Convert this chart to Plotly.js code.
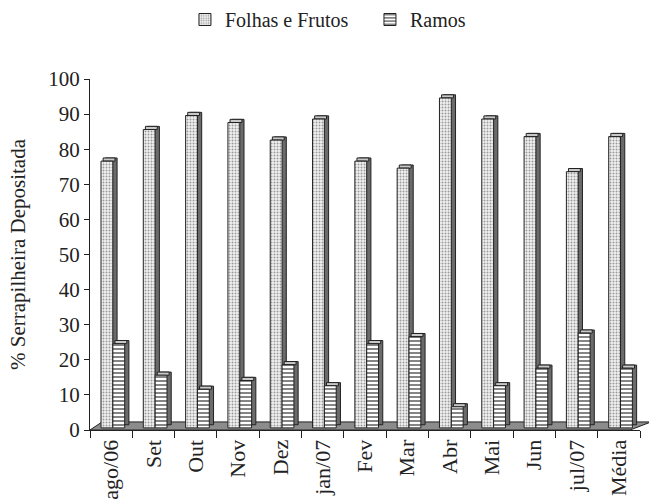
<!DOCTYPE html>
<html><head><meta charset="utf-8">
<script src="https://cdn.plot.ly/plotly-3.0.1.min.js"></script>
<style>html,body{margin:0;padding:0;background:#fff}</style>
</head><body>
<div id="chart" style="width:649px;height:499px"></div>
<script>
const categories = ["ago/06","Set","Out","Nov","Dez","jan/07","Fev","Mar","Abr","Mai","Jun","jul/07","Média"];
const folhasFrutos = [76, 85, 89, 87, 82, 88, 76, 74, 94, 88, 83, 73, 83];
const ramos = [24, 15, 11, 13.5, 18, 12, 24, 26, 6, 12, 17, 27, 17];
const seriesNames = ["Folhas e Frutos", "Ramos"];

const W = 0.28, DX = 0.1, DY = 0.9;
function depthTraces(vals, off) {
  return [
    {type:'bar', x:categories, y:vals, base:vals.map(()=>DY+0.6), offset:off+DX, width:W,
     marker:{color:'#6b6b6b', line:{color:'#222', width:1}}, showlegend:false, hoverinfo:'skip'},
    {type:'bar', x:categories, y:vals.map(()=>DY), base:vals.map(v=>v+0.6), offset:off+DX/2, width:W,
     marker:{color:'#c8c8c8', line:{color:'#222', width:1}}, showlegend:false, hoverinfo:'skip'}
  ];
}
const offF = -0.24, offR = 0.04;
const traces = [
  ...depthTraces(folhasFrutos, offF),
  {type:'bar', name:seriesNames[0], x:categories, y:folhasFrutos, base:0.6, offset:offF, width:W,
   marker:{color:'#fff', line:{color:'#222', width:1},
     pattern:{shape:'.', size:3, solidity:0.35, fgcolor:'#9a9a9a', bgcolor:'#f2f2f2'}}},
  ...depthTraces(ramos, offR),
  {type:'bar', name:seriesNames[1], x:categories, y:ramos, base:0.6, offset:offR, width:W,
   marker:{color:'#fff', line:{color:'#222', width:1},
     pattern:{shape:'-', size:4, solidity:0.45, fgcolor:'#777', bgcolor:'#fff'}}}
];

const layout = {
  width:649, height:499,
  margin:{l:90, r:9, t:79, b:69, autoexpand:false},
  paper_bgcolor:'#fff', plot_bgcolor:'rgba(0,0,0,0)',
  barmode:'overlay',
  font:{family:'Liberation Serif', color:'#222', size:20},
  showlegend:true,
  legend:{orientation:'h', xref:'container', yref:'container', x:0.285, xanchor:'left', y:1.0, yanchor:'top',
    font:{family:'Liberation Serif', size:20, color:'#222'}, itemwidth:30, traceorder:'normal', entrywidth:140},
  xaxis:{type:'category', tickangle:-90, ticks:'outside', ticklen:7, tickson:'boundaries',
    showline:true, linecolor:'#222', linewidth:1, tickcolor:'#222',
    tickfont:{family:'Liberation Serif', size:22, color:'#222'}, showgrid:false, range:[-0.5,12.5]},
  yaxis:{range:[0,100], dtick:10, ticks:'outside', ticklen:5, showline:true,
    linecolor:'#222', tickcolor:'#222', showgrid:false, zeroline:false,
    tickfont:{family:'Liberation Serif', size:21, color:'#222'},
    title:{text:'% Serrapilheira Depositada', font:{family:'Liberation Serif', size:21, color:'#222'}, standoff:16}},
  shapes:[
    {type:'path', xref:'paper', yref:'y',
     path:'M 0,0 L 0.982,0 L 1.02,2.3 L 0.022,2.3 Z',
     fillcolor:'#8c8c8c', line:{color:'#222', width:1}, layer:'below'}
  ]
};
Plotly.newPlot('chart', traces, layout, {displayModeBar:false});
</script>
</body></html>
